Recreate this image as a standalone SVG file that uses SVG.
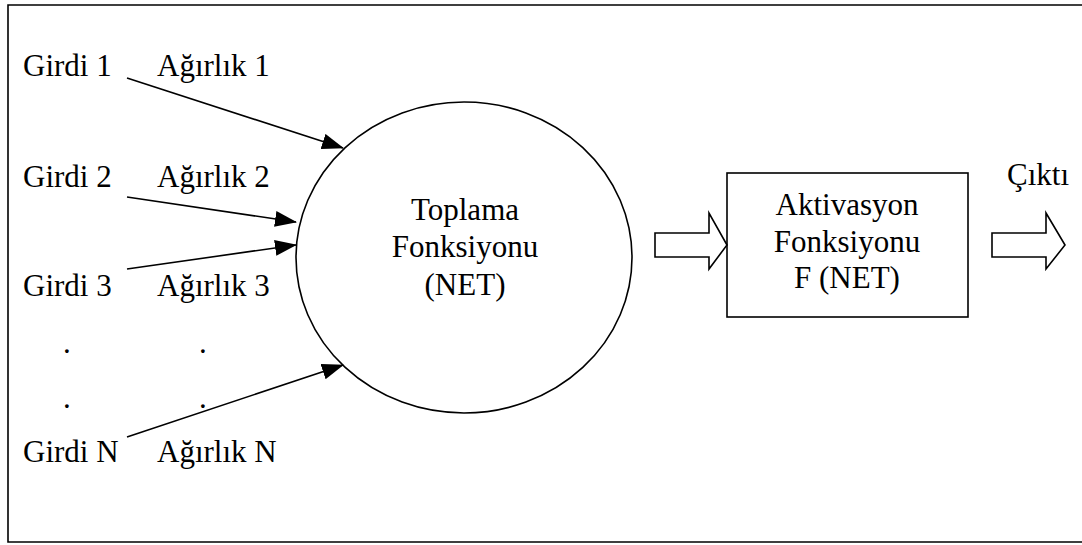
<svg xmlns="http://www.w3.org/2000/svg" width="1082" height="545" viewBox="0 0 1082 545">
<style>
.t{font-family:"Liberation Serif";font-size:31px;fill:#000}
.c{text-anchor:middle}
.ln{stroke:#000;stroke-width:1.6;fill:none}
.sh{stroke:#000;stroke-width:1.6;fill:#fff}
</style>
<defs>
<marker id="ah" markerWidth="22" markerHeight="16" refX="21" refY="8" orient="auto" markerUnits="userSpaceOnUse">
<path d="M0,0 L22,8 L0,16 Z" fill="#000"/>
</marker>
</defs>
<rect x="0" y="0" width="1082" height="545" fill="#fff"/>
<g id="frame">
<path class="ln" d="M1090,5 H8 V542 H1090" stroke-width="2"/>
</g>
<g id="inputs">
<text class="t" x="23" y="76">Girdi 1</text>
<text class="t" x="157" y="76">Ağırlık 1</text>
<text class="t" x="23" y="187">Girdi 2</text>
<text class="t" x="157" y="187">Ağırlık 2</text>
<text class="t" x="23" y="296">Girdi 3</text>
<text class="t" x="157" y="296">Ağırlık 3</text>
<text class="t" x="63" y="353">.</text>
<text class="t" x="199" y="353">.</text>
<text class="t" x="63" y="408">.</text>
<text class="t" x="199" y="408">.</text>
<text class="t" x="23" y="462">Girdi N</text>
<text class="t" x="157" y="462">Ağırlık N</text>
</g>
<g id="summation">
<ellipse class="sh" cx="464" cy="257.5" rx="168" ry="155.5"/>
<text class="t c" x="465" y="220">Toplama</text>
<text class="t c" x="465" y="257">Fonksiyonu</text>
<text class="t c" x="465" y="295">(NET)</text>
</g>
<g id="activation">
<rect class="sh" x="727" y="173" width="241" height="144"/>
<text class="t c" x="847" y="215">Aktivasyon</text>
<text class="t c" x="847" y="252">Fonksiyonu</text>
<text class="t c" x="847" y="288">F (NET)</text>
</g>
<g id="output">
<text class="t" x="1007" y="185">Çıktı</text>
</g>
<g id="connectors">
<line class="ln" x1="127" y1="78" x2="343" y2="148" marker-end="url(#ah)"/>
<line class="ln" x1="127" y1="197" x2="296" y2="222" marker-end="url(#ah)"/>
<line class="ln" x1="127" y1="269" x2="296" y2="245" marker-end="url(#ah)"/>
<line class="ln" x1="127" y1="437" x2="343" y2="365" marker-end="url(#ah)"/>
<path class="sh" d="M655,233 H709 V213 L727,245 L709,269 V257 H655 Z"/>
<path class="sh" d="M992,233 H1046 V213 L1065,245 L1046,269 V257 H992 Z"/>
</g>
</svg>
